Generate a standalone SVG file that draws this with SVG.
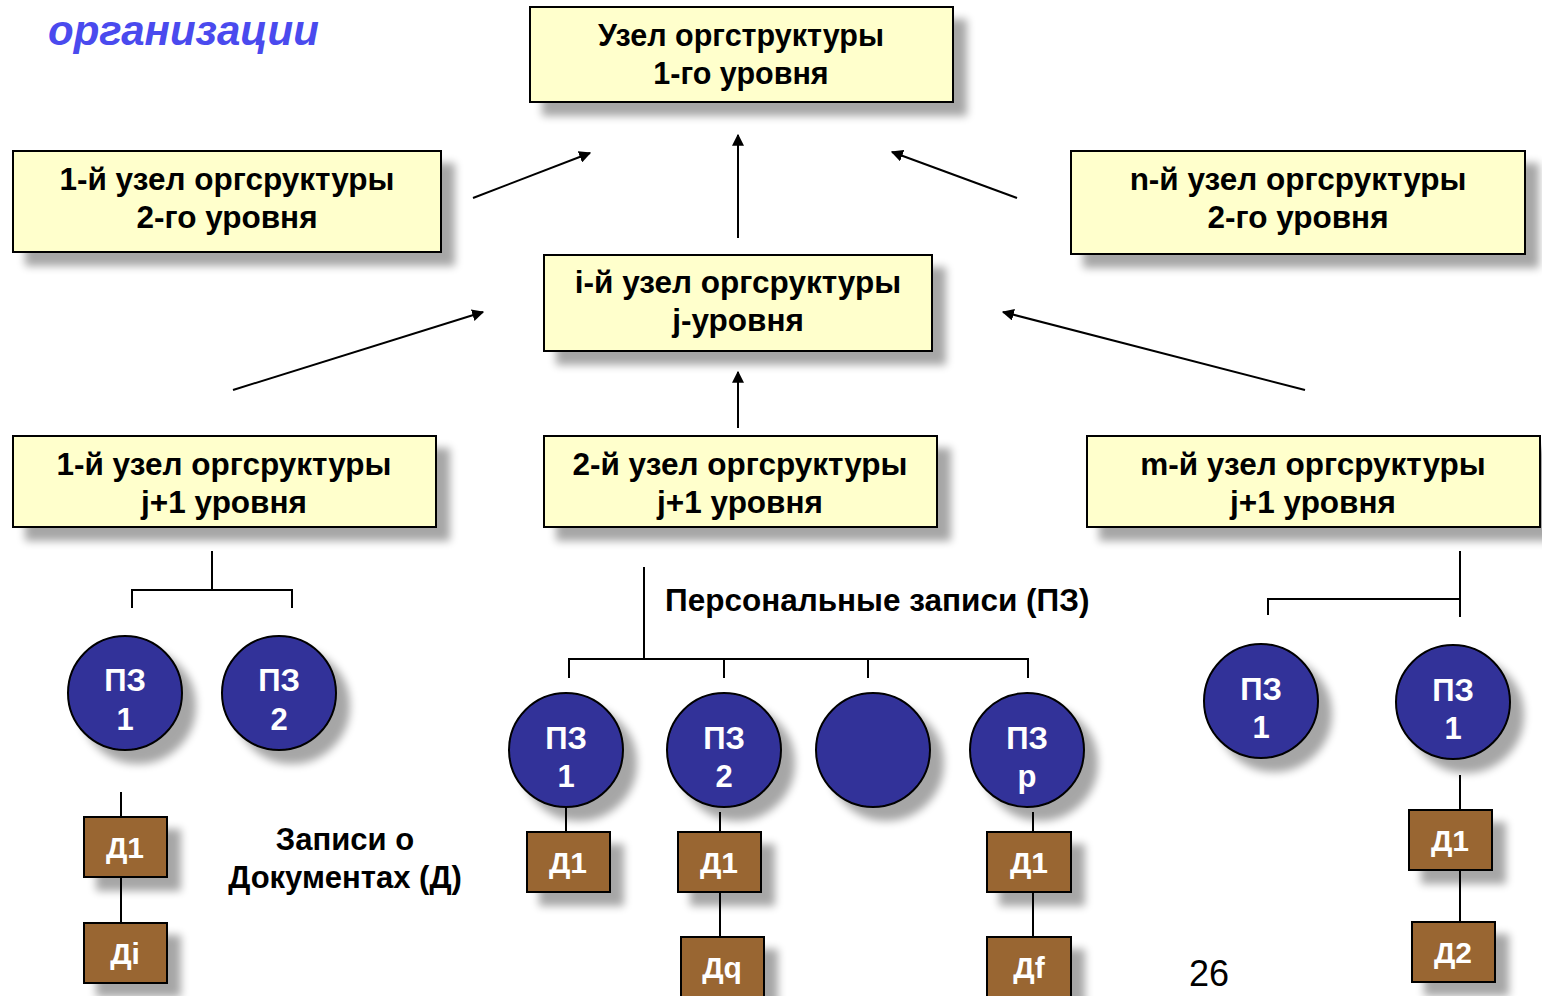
<svg xmlns="http://www.w3.org/2000/svg" width="1542" height="996" viewBox="0 0 1542 996">
<defs>
<filter id="sh" x="-20%" y="-20%" width="150%" height="160%">
<feGaussianBlur in="SourceAlpha" stdDeviation="4"/>
<feOffset dx="13" dy="13" result="b"/>
<feComponentTransfer><feFuncA type="linear" slope="0.35"/></feComponentTransfer>
<feMerge><feMergeNode/><feMergeNode in="SourceGraphic"/></feMerge>
</filter>
<marker id="ah" viewBox="0 0 10 10" refX="9" refY="5" markerWidth="12" markerHeight="12" markerUnits="userSpaceOnUse" orient="auto">
<path d="M0,0 L10,5 L0,10 z" fill="#000"/>
</marker>
<style>
.box{fill:#ffffcc;stroke:#000;stroke-width:2;filter:url(#sh)}
.bt{font-family:"Liberation Sans",Arial,sans-serif;font-weight:bold;font-size:31.5px;fill:#000;text-anchor:middle}
.bt0{font-size:30.5px}
.pz{fill:#333399;stroke:#000;stroke-width:2;filter:url(#sh)}
.pt{font-family:"Liberation Sans",Arial,sans-serif;font-weight:bold;font-size:31px;fill:#fff;text-anchor:middle}
.dt{font-family:"Liberation Sans",Arial,sans-serif;font-weight:bold;font-size:30px;fill:#fff;text-anchor:middle}
.doc{fill:#996633;stroke:#000;stroke-width:2;filter:url(#sh)}
.arr{stroke:#000;stroke-width:2;fill:none;marker-end:url(#ah)}
.ln{stroke:#000;stroke-width:2;fill:none}
</style>
</defs>
<rect width="1542" height="996" fill="#fff"/>
<text x="48" y="45" font-family="'Liberation Sans',Arial,sans-serif" font-weight="bold" font-style="italic" font-size="42" fill="#4a4aee">организации</text>

<g id="connectors">
<line class="arr" x1="473" y1="198" x2="590" y2="153"/>
<line class="arr" x1="738" y1="238" x2="738" y2="135"/>
<line class="arr" x1="1017" y1="198" x2="892" y2="152"/>
<line class="arr" x1="233" y1="390" x2="483" y2="312"/>
<line class="arr" x1="1305" y1="390" x2="1003" y2="312"/>
<line class="arr" x1="738" y1="428" x2="738" y2="372"/>
<path class="ln" d="M212,551 V590 M132,608 V590 H292 V608"/>
<path class="ln" d="M644,567 V659 M569,678 V659 H1028 V678 M724,659 V678 M868,659 V678"/>
<path class="ln" d="M1460,551 V617 M1268,615 V599 H1460"/>
<path class="ln" d="M121,792 V817 M121,877 V923"/>
<path class="ln" d="M566,807 V832 M720,812 V832 M720,892 V937 M1033,812 V832 M1033,892 V937"/>
<path class="ln" d="M1460,775 V810 M1460,870 V922"/>
</g>

<g id="n-top"><rect class="box" x="530" y="7" width="423" height="95"/><text class="bt bt0" x="741" y="46">Узел оргструктуры</text><text class="bt bt0" x="741" y="84">1-го уровня</text></g>
<g id="n-l2-1"><rect class="box" x="13" y="151" width="428" height="101"/><text class="bt" x="227" y="190">1-й узел оргсруктуры</text><text class="bt" x="227" y="228">2-го уровня</text></g>
<g id="n-l2-n"><rect class="box" x="1071" y="151" width="454" height="103"/><text class="bt" x="1298" y="190">n-й узел оргсруктуры</text><text class="bt" x="1298" y="228">2-го уровня</text></g>
<g id="n-j"><rect class="box" x="544" y="255" width="388" height="96"/><text class="bt" x="738" y="293">i-й узел оргсруктуры</text><text class="bt" x="738" y="331">j-уровня</text></g>
<g id="n-j1-1"><rect class="box" x="13" y="436" width="423" height="91"/><text class="bt" x="224" y="475">1-й узел оргсруктуры</text><text class="bt" x="224" y="513">j+1 уровня</text></g>
<g id="n-j1-2"><rect class="box" x="544" y="436" width="393" height="91"/><text class="bt" x="740" y="475">2-й узел оргсруктуры</text><text class="bt" x="740" y="513">j+1 уровня</text></g>
<g id="n-j1-m"><rect class="box" x="1087" y="436" width="453" height="91"/><text class="bt" x="1313" y="475">m-й узел оргсруктуры</text><text class="bt" x="1313" y="513">j+1 уровня</text></g>

<g id="label-pz"><text class="bt" x="665" y="611" style="text-anchor:start;font-size:31.5px">Персональные записи (ПЗ)</text></g>
<g id="label-d"><text class="bt" x="345" y="850" style="font-size:31px">Записи о</text><text class="bt" x="345" y="888" style="font-size:31px">Документах (Д)</text></g>

<g id="pz-l1"><circle class="pz" cx="125" cy="693" r="57"/><text class="pt" x="125" y="691">ПЗ</text><text class="pt" x="125" y="730">1</text></g>
<g id="pz-l2"><circle class="pz" cx="279" cy="693" r="57"/><text class="pt" x="279" y="691">ПЗ</text><text class="pt" x="279" y="730">2</text></g>
<g id="pz-m1"><circle class="pz" cx="566" cy="750" r="57"/><text class="pt" x="566" y="749">ПЗ</text><text class="pt" x="566" y="787">1</text></g>
<g id="pz-m2"><circle class="pz" cx="724" cy="750" r="57"/><text class="pt" x="724" y="749">ПЗ</text><text class="pt" x="724" y="787">2</text></g>
<g id="pz-m3"><circle class="pz" cx="873" cy="750" r="57"/></g>
<g id="pz-mp"><circle class="pz" cx="1027" cy="750" r="57"/><text class="pt" x="1027" y="749">ПЗ</text><text class="pt" x="1027" y="787">p</text></g>
<g id="pz-r1"><circle class="pz" cx="1261" cy="701" r="57"/><text class="pt" x="1261" y="700">ПЗ</text><text class="pt" x="1261" y="738">1</text></g>
<g id="pz-r2"><circle class="pz" cx="1453" cy="702" r="57"/><text class="pt" x="1453" y="701">ПЗ</text><text class="pt" x="1453" y="739">1</text></g>

<g id="d-l1"><rect class="doc" x="84" y="817" width="83" height="60"/><text class="dt" x="125" y="858">Д1</text></g>
<g id="d-li"><rect class="doc" x="84" y="923" width="83" height="60"/><text class="dt" x="125" y="964">Дi</text></g>
<g id="d-m1"><rect class="doc" x="527" y="832" width="83" height="60"/><text class="dt" x="568" y="873">Д1</text></g>
<g id="d-m2"><rect class="doc" x="678" y="832" width="83" height="60"/><text class="dt" x="719" y="873">Д1</text></g>
<g id="d-mq"><rect class="doc" x="681" y="937" width="83" height="62"/><text class="dt" x="722" y="978">Дq</text></g>
<g id="d-mp"><rect class="doc" x="987" y="832" width="84" height="60"/><text class="dt" x="1029" y="873">Д1</text></g>
<g id="d-mf"><rect class="doc" x="987" y="937" width="84" height="62"/><text class="dt" x="1029" y="978">Дf</text></g>
<g id="d-r1"><rect class="doc" x="1409" y="810" width="83" height="60"/><text class="dt" x="1450" y="851">Д1</text></g>
<g id="d-r2"><rect class="doc" x="1412" y="922" width="83" height="60"/><text class="dt" x="1453" y="963">Д2</text></g>

<text x="1189" y="986" font-family="'Liberation Sans',Arial,sans-serif" font-size="36" fill="#000">26</text>
</svg>
